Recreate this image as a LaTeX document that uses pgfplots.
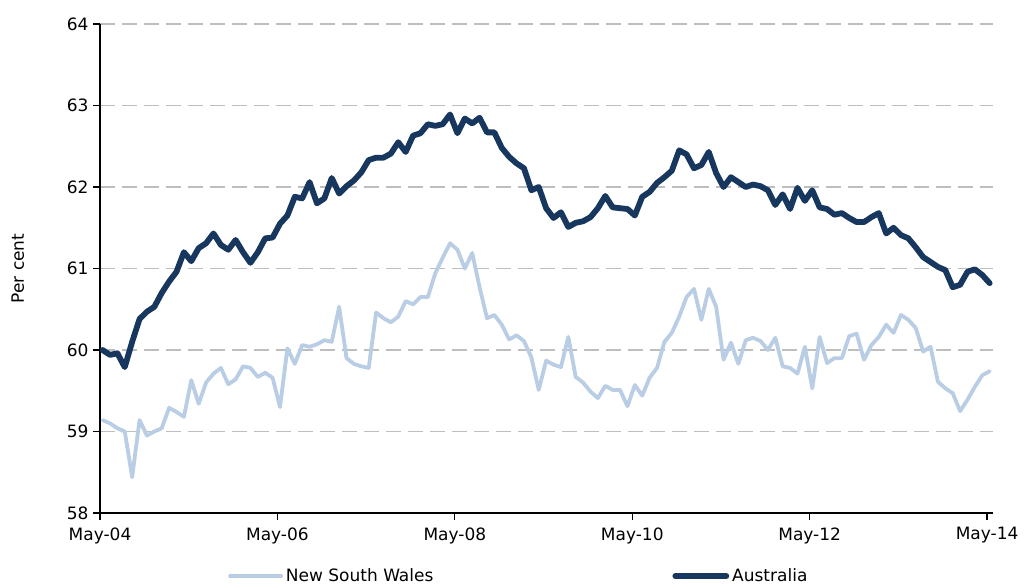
\documentclass[border=0pt]{standalone}
\usepackage{fontspec}
\setmainfont{DejaVu Sans}
\usepackage{pgfplots}
\pgfplotsset{compat=1.18}
\usepackage{pgfplotstable}
\definecolor{aus}{RGB}{23,55,94}
\definecolor{nsw}{RGB}{185,205,229}
\definecolor{gridgray}{RGB}{190,190,190}
\pgfplotstableread{
nsw aus
59.14 60.00
59.10 59.94
59.04 59.96
59.00 59.79
58.44 60.10
59.14 60.38
58.95 60.47
59.00 60.53
59.04 60.70
59.29 60.84
59.24 60.96
59.18 61.20
59.63 61.09
59.34 61.25
59.60 61.31
59.71 61.43
59.78 61.29
59.58 61.23
59.64 61.35
59.80 61.20
59.78 61.07
59.67 61.20
59.72 61.37
59.66 61.38
59.30 61.55
60.02 61.65
59.83 61.88
60.06 61.86
60.04 62.06
60.07 61.80
60.12 61.86
60.10 62.11
60.53 61.92
59.90 62.01
59.83 62.08
59.80 62.18
59.78 62.33
60.46 62.36
60.39 62.36
60.34 62.41
60.41 62.55
60.60 62.43
60.56 62.63
60.65 62.66
60.65 62.77
60.94 62.75
61.13 62.77
61.31 62.89
61.23 62.66
61.00 62.84
61.19 62.78
60.77 62.85
60.39 62.67
60.43 62.67
60.31 62.48
60.13 62.37
60.18 62.29
60.11 62.23
59.91 61.96
59.51 62.00
59.87 61.74
59.82 61.62
59.79 61.69
60.16 61.51
59.67 61.56
59.60 61.58
59.49 61.63
59.41 61.74
59.56 61.89
59.51 61.75
59.51 61.74
59.31 61.73
59.57 61.65
59.44 61.88
59.66 61.94
59.78 62.05
60.10 62.12
60.21 62.20
60.41 62.45
60.65 62.40
60.75 62.23
60.37 62.27
60.75 62.43
60.53 62.17
59.88 62.00
60.09 62.12
59.83 62.06
60.12 62.00
60.15 62.03
60.11 62.01
60.00 61.96
60.15 61.78
59.80 61.91
59.78 61.73
59.71 61.99
60.04 61.83
59.53 61.96
60.16 61.75
59.84 61.73
59.90 61.66
59.90 61.68
60.17 61.62
60.20 61.57
59.88 61.57
60.06 61.63
60.16 61.68
60.31 61.43
60.21 61.50
60.43 61.41
60.37 61.37
60.27 61.26
59.98 61.14
60.04 61.08
59.61 61.02
59.53 60.98
59.47 60.77
59.25 60.80
59.39 60.96
59.55 60.99
59.69 60.92
59.74 60.82
}\data
\begin{document}
\begin{tikzpicture}
\begin{axis}[
  scale only axis, width=893pt, height=489pt,
  xmin=0, xmax=120.8, ymin=58, ymax=64,
  axis x line*=bottom, axis y line*=left,
  axis line style={black, line width=1.6pt},
  xtick={0,24,48,72,96,120},
  xticklabels={May-04,May-06,May-08,May-10,May-12,May-14},
  ytick={58,59,60,61,62,63,64},
  ymajorgrids,
  major grid style={gridgray, line width=1.8pt, dash pattern=on 15pt off 7pt},
  tick style={black, line width=1.3pt},
  major tick length=7pt,
  tick align=outside,
  /pgf/number format/assume math mode=true,
  tick label style={font=\fontsize{17}{20}\selectfont},
  yticklabel style={xshift=-1pt},
  xticklabel style={yshift=-4pt},
  ylabel={Per cent},
  ylabel style={font=\fontsize{17}{20}\selectfont, at={(axis description cs:-0.092,0.5)}, anchor=center},
  legend columns=2,
  legend style={at={(axis description cs:0.1433,-0.129)}, anchor=west, draw=none, inner sep=0pt,
    font=\fontsize{17}{20}\selectfont, /tikz/every even column/.append style={column sep=236pt},
    nodes={inner ysep=1pt, inner xsep=3pt}},
  legend image code/.code={\draw[#1] (2pt,0pt) -- (53pt,0pt);},
  clip=false,
]
\addplot[nsw, line width=3.8pt, line join=round, line cap=round] table[x expr=\coordindex+0.35, y=nsw] {\data};
\addlegendentry{New South Wales}
\addplot[aus, line width=5.8pt, line join=round, line cap=round] table[x expr=\coordindex+0.35, y=aus] {\data};
\addlegendentry{Australia}
\end{axis}
\pgfresetboundingbox
\path[use as bounding box] (-100pt,-74pt) rectangle (926pt,513pt);
\end{tikzpicture}
\end{document}
